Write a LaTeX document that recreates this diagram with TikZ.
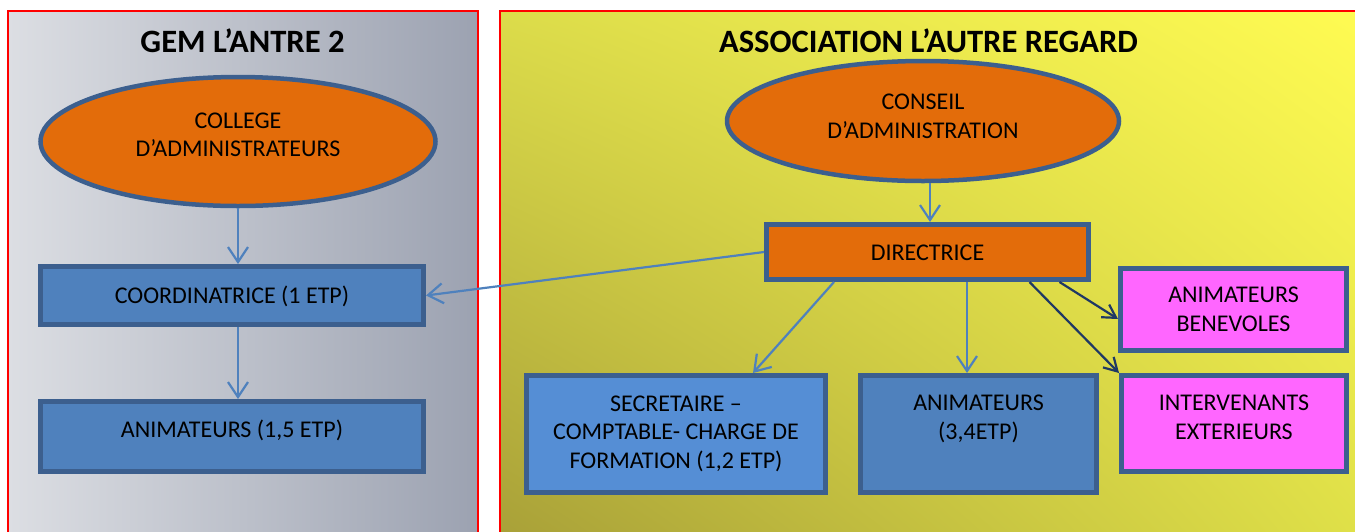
\documentclass[tikz,border=0pt]{standalone}
\usepackage{fontspec}
\setmainfont{Carlito}
\usetikzlibrary{arrows.meta,shapes.geometric,calc,shadings}
\definecolor{bdr}{HTML}{3C5F8E}
\definecolor{orng}{HTML}{E36C0A}
\definecolor{bluefill}{HTML}{4F81BD}
\definecolor{bluelight}{HTML}{558ED5}
\definecolor{magfill}{HTML}{FF66FF}
\definecolor{arrblue}{HTML}{4F81BD}
\definecolor{navy}{HTML}{1F3864}
\definecolor{grayL}{HTML}{DCDEE3}
\definecolor{grayR}{HTML}{9CA2B1}
\definecolor{yUL}{HTML}{DCDC4A}
\definecolor{yUR}{HTML}{FFFB52}
\definecolor{yLL}{HTML}{A8A038}
\definecolor{yLR}{HTML}{DFE048}
\tikzset{
  ell/.style={ellipse, draw=bdr, line width=4.5pt, fill=orng, inner sep=0pt},
  box/.style={rectangle, draw=bdr, line width=5pt, inner sep=0pt},
  txt/.style={align=center, inner sep=0pt, font=\fontsize{24}{28.5}\selectfont},
  ttl/.style={inner sep=0pt, font=\fontsize{32.6}{38}\selectfont\bfseries, anchor=base},
  arr/.style={draw=arrblue, line width=2.2pt, -{Straight Barb[length=15pt,width=20pt]}},
  narr/.style={draw=navy, line width=2.2pt, -{Straight Barb[length=13pt,width=15pt]}},
}
\begin{document}
\begin{tikzpicture}[x=1pt,y=-1pt]
\useasboundingbox (0,0) rectangle (1355,531);
\begin{scope}
\clip (0,0) rectangle (1355,531);
% panels
\shade[left color=grayL, right color=grayR] (8,11) rectangle (478,540);
\draw[red, line width=1.5pt] (8,540) -- (8,11) -- (478,11) -- (478,540);
\shade[upper left=yUL, upper right=yUR, lower left=yLL, lower right=yLR] (500,11) rectangle (1360,540);
\draw[red, line width=1.5pt] (500,540) -- (500,11) -- (1360,11);
\end{scope}
% titles
\node[ttl] (gemT) at (242.5,52) {GEM L’ANTRE 2};
\node[ttl] (assT) at (928.5,52) {ASSOCIATION L’AUTRE REGARD};
% left side
\node[ell, minimum width=395pt, minimum height=129pt] (college) at (238,141.5) {};
\node[txt] (collegeT) at ([yshift=4.5pt]college.center) {\strut COLLEGE\\D’ADMINISTRATEURS\strut};
\node[box, fill=bluefill, minimum width=383pt, minimum height=58pt] (coord) at (232,295.5) {};
\node[txt] (coordT) at ([yshift=-2.5pt]coord.center) {\strut COORDINATRICE (1 ETP)};
\node[box, fill=bluefill, minimum width=383pt, minimum height=70pt] (anim1) at (232,436.5) {};
\node[txt] (anim1T) at ([yshift=5pt]anim1.center) {\strut ANIMATEURS (1,5 ETP)};
% right side
\node[ell, minimum width=392pt, minimum height=120pt] (conseil) at (923,121) {};
\node[txt] (conseilT) at ([yshift=2.5pt]conseil.center) {\strut CONSEIL\\D’ADMINISTRATION\strut};
\node[box, fill=orng, minimum width=322pt, minimum height=55pt] (dir) at (927.5,252) {};
\node[txt] (dirT) at ([yshift=-3pt]dir.center) {\strut DIRECTRICE};
\node[box, fill=bluelight, minimum width=299pt, minimum height=117pt] (sec) at (676,434) {};
\node[txt] (secT) at (sec.center) {\strut SECRETAIRE –\\COMPTABLE- CHARGE DE\\FORMATION (1,2 ETP)\strut};
\node[box, fill=bluefill, minimum width=236pt, minimum height=117pt] (anim2) at (978.5,434) {};
\node[txt] (anim2T) at ([yshift=14.5pt]anim2.center) {\strut ANIMATEURS\\(3,4ETP)\strut};
\node[box, fill=magfill, minimum width=226pt, minimum height=82pt] (benev) at (1233.5,309.5) {};
\node[txt] (benevT) at ([yshift=-2pt]benev.center) {\strut ANIMATEURS\\BENEVOLES\strut};
\node[box, fill=magfill, minimum width=225pt, minimum height=96pt] (interv) at (1234,423.5) {};
\node[txt] (intervT) at ([yshift=4pt]interv.center) {\strut INTERVENANTS\\EXTERIEURS\strut};
% connectors
\draw[arr] ([xshift=6pt]coord.north |- college.south) -- ([xshift=6pt]coord.north);
\draw[arr] ([xshift=6pt]coord.south) -- ([xshift=6pt]anim1.north);
\draw[arr] ([xshift=2.5pt]dir.north |- conseil.south) -- ([xshift=2.5pt]dir.north);
\draw[arr] (dir.west) -- (coord.east);
\draw[arr] ([xshift=70pt]dir.south west) -- ([xshift=77pt]sec.north);
\draw[arr] ([xshift=39.5pt]dir.south) -- ([xshift=-11.5pt]anim2.north);
\draw[narr] ([xshift=-31.5pt]dir.south east) -- ([yshift=-9.5pt]benev.west);
\draw[narr] ([xshift=-61.5pt]dir.south east) -- (interv.north west);
\end{tikzpicture}
\end{document}
